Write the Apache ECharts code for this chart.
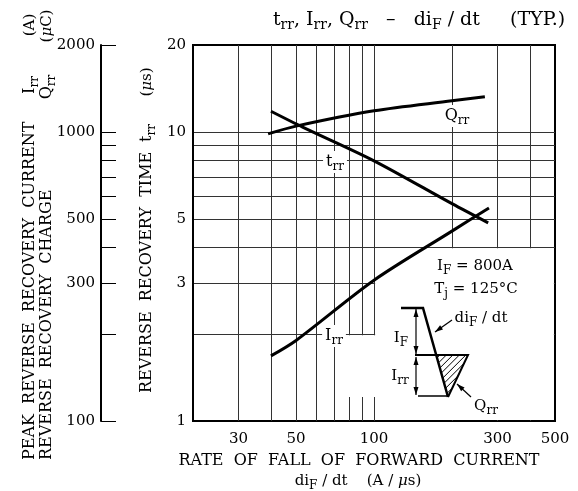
<!DOCTYPE html>
<html>
<head>
<meta charset="utf-8">
<title>trr, Irr, Qrr - diF/dt</title>
<script src="https://cdn.jsdelivr.net/npm/echarts@6/dist/echarts.min.js"></script>
<style>
  html, body { margin: 0; padding: 0; background: #fff; }
  #chart { width: 578px; height: 491px; }
</style>
</head>
<body>
<div id="chart"></div>
<script>
// curves, x = diF/dt in A/us
var trrRate = [40, 53, 100, 200, 276];
var trrTime = [11.8, 10.4, 7.95, 5.65, 4.85];        // us
var irrRate = [40, 50, 100, 200, 278];
var irrCurrent = [168, 190, 307, 454, 546];        // A
var qrrRate = [39, 50, 100, 200, 268];
var qrrCharge = [985, 1048, 1184, 1282, 1325];     // uC

// axis ticks / grid
var xTickLabels = [30, 50, 100, 300, 500];
var xGridLines = [30, 40, 50, 60, 70, 80, 90, 100, 200, 300, 400];
var trrTickLabels = [1, 3, 5, 10, 20];
var trrGridLines = [2, 3, 4, 5, 6, 7, 8, 9, 10];
var leftTickLabels = [100, 300, 500, 1000, 2000];
var leftTicks = [100, 200, 300, 400, 500, 600, 700, 800, 900, 1000, 2000];

var F = 'DejaVu Serif';
var rich = {
  s: { fontFamily: F, fontSize: 12, padding: [10, 0, 0, 0], fill: '#000' },
  t: { fontFamily: F, fontSize: 14, padding: [11, 0, 0, 0], fill: '#000' },
  m: { fontFamily: F, fontSize: 15, fontStyle: 'italic', fill: '#000' }
};

function pairs(xs, ys) {
  return xs.map(function (x, i) { return [x, ys[i]]; });
}

function text(x, y, str, size, extra) {
  var el = {
    type: 'text', x: x, y: y, z: 10, silent: true,
    style: { text: str, fontFamily: F, fontSize: size, fill: '#000',
      align: 'center', verticalAlign: 'middle', rich: rich }
  };
  if (extra) {
    for (var k in extra) el.style[k] = extra[k];
  }
  return el;
}

// rotated text, reads bottom to top
function vtext(x, y, str, size, align) {
  var el = text(x, y, str, size, align ? { align: align } : null);
  el.rotation = Math.PI / 2;
  return el;
}

function seg(points, w) {
  return { type: 'polyline', z: 10, silent: true,
    shape: { points: points }, style: { stroke: '#000', lineWidth: w, fill: null } };
}

// arrow head with tip at (tx,ty), coming from (fx,fy)
function head(tx, ty, fx, fy) {
  var dx = tx - fx, dy = ty - fy, d = Math.sqrt(dx * dx + dy * dy);
  var ux = dx / d, uy = dy / d, len = 8, hw = 2.5;
  var bx = tx - ux * len, by = ty - uy * len;
  return { type: 'polygon', z: 10, silent: true,
    shape: { points: [[tx, ty], [bx - uy * hw, by + ux * hw], [bx + uy * hw, by - ux * hw]] },
    style: { fill: '#000' } };
}

function arrow(fx, fy, tx, ty, both) {
  var out = [seg([[fx, fy], [tx, ty]], 1.2), head(tx, ty, fx, fy)];
  if (both) out.push(head(fx, fy, tx, ty));
  return out;
}

// hatching inside the Qrr triangle of the sketch
function hatch(tri, step) {
  var out = [];
  var cs = tri.map(function (p) { return p[0] + p[1]; });
  var cmin = Math.min.apply(null, cs), cmax = Math.max.apply(null, cs);
  for (var c = cmin + step / 2; c < cmax; c += step) {
    var pts = [];
    for (var i = 0; i < 3; i++) {
      var p = tri[i], q = tri[(i + 1) % 3];
      var fp = p[0] + p[1] - c, fq = q[0] + q[1] - c;
      if ((fp <= 0 && fq > 0) || (fp > 0 && fq <= 0)) {
        var t = fp / (fp - fq);
        pts.push([p[0] + t * (q[0] - p[0]), p[1] + t * (q[1] - p[1])]);
      }
    }
    if (pts.length === 2) out.push(seg(pts, 1));
  }
  return out;
}

var graphics = [
  text(419, 20, 't{t|rr}, I{t|rr}, Q{t|rr}   –   di{t|F} / dt     (TYP.)', 19),
  text(359, 461, 'RATE  OF  FALL  OF  FORWARD  CURRENT', 16),
  text(358, 481, 'di{s|F} / dt    (A / {m|μ}s)', 15),

  vtext(30, 460, 'PEAK  REVERSE  RECOVERY  CURRENT', 16, 'left'),
  vtext(30, 85, 'I{s|rr}', 16),
  vtext(30, 25, '(A)', 15),
  vtext(47, 460, 'REVERSE  RECOVERY  CHARGE', 16, 'left'),
  vtext(47, 87, 'Q{s|rr}', 16),
  vtext(47, 26, '({m|μ}C)', 15),
  vtext(147, 393, 'REVERSE  RECOVERY  TIME', 16, 'left'),
  vtext(147, 133, 't{s|rr}', 16),
  vtext(147, 82, '({m|μ}s)', 15),

  // curve names
  text(335, 162, 't{s|rr}', 16, { backgroundColor: '#fff', padding: [0, 3, 0, 3] }),
  text(334, 336, 'I{s|rr}', 16, { backgroundColor: '#fff', padding: [0, 3, 0, 3] }),
  text(457, 116, 'Q{s|rr}', 16, { backgroundColor: '#fff', padding: [0, 3, 0, 3] }),

  // conditions
  text(475, 266, 'I{s|F} = 800A', 15),
  text(476, 289, 'T{s|j} = 125°C', 15),

  // waveform sketch
  seg([[401, 308], [423, 308], [448, 397]], 2.5),
  seg([[415, 355], [468, 355], [448, 397]], 2),
  seg([[418, 396], [448, 396]], 1.5),
  text(401, 338, 'I{s|F}', 15),
  text(400, 376, 'I{s|rr}', 15),
  text(481, 318, 'di{s|F} / dt', 15),
  text(486, 406, 'Q{s|rr}', 15)
];
graphics = graphics
  .concat(arrow(416, 309, 416, 354, true))
  .concat(arrow(416, 357, 416, 395, true))
  .concat(arrow(452, 320, 435, 332))
  .concat(arrow(471, 397, 457, 384))
  .concat(hatch([[436.6, 355], [468, 355], [448.3, 396.7]], 6.5));

var lineStyle = { color: '#000', width: 3 };
var plain = function (v) { return String(v); };

var chart = echarts.init(document.getElementById('chart'));
chart.setOption({
  animation: false,
  backgroundColor: '#fff',
  textStyle: { fontFamily: F },
  grid: { left: 193, right: 23, top: 45, bottom: 70, show: true,
    borderColor: '#000', borderWidth: 2, backgroundColor: 'transparent' },
  xAxis: {
    type: 'log', logBase: 10, min: 20, max: 500,
    axisLine: { show: false },
    axisTick: { show: false, customValues: xGridLines },
    splitLine: { show: true, lineStyle: { color: '#333', width: 1 } },
    axisLabel: { customValues: xTickLabels, formatter: plain, margin: 11,
      color: '#000', fontSize: 15, fontFamily: F }
  },
  yAxis: [
    {
      type: 'log', logBase: 10, min: 1, max: 20, position: 'left',
      axisLine: { show: true, lineStyle: { color: '#000', width: 2 } },
      axisTick: { show: false, customValues: trrGridLines },
      splitLine: { show: true, lineStyle: { color: '#333', width: 1 } },
      axisLabel: { customValues: trrTickLabels, formatter: plain, margin: 7,
        color: '#000', fontSize: 15, fontFamily: F }
    },
    {
      type: 'log', logBase: 10, min: 100, max: 2000, position: 'left', offset: 92,
      axisLine: { show: true, lineStyle: { color: '#000', width: 2 } },
      axisTick: { show: true, inside: true, length: 15, customValues: leftTicks,
        lineStyle: { color: '#000', width: 1 } },
      splitLine: { show: false },
      axisLabel: { customValues: leftTickLabels, formatter: plain, margin: 6,
        color: '#000', fontSize: 15, fontFamily: F }
    }
  ],
  series: [
    {
      // white areas of the original sheet (inset box, gap in the grid)
      type: 'line', yAxisIndex: 0, data: [], silent: true,
      markArea: {
        silent: true, z: 1,
        itemStyle: { color: '#fff' },
        data: [
          [{ xAxis: 101, yAxis: 3.96 }, { xAxis: 495, yAxis: 1.008 }],
          [{ xAxis: 75, yAxis: 1.98 }, { xAxis: 101, yAxis: 1.21 }]
        ]
      }
    },
    { name: 'trr', type: 'line', yAxisIndex: 0, data: pairs(trrRate, trrTime),
      showSymbol: false, smooth: 0.3, lineStyle: lineStyle, z: 3 },
    { name: 'Irr', type: 'line', yAxisIndex: 1, data: pairs(irrRate, irrCurrent),
      showSymbol: false, smooth: 0.3, lineStyle: lineStyle, z: 3 },
    { name: 'Qrr', type: 'line', yAxisIndex: 1, data: pairs(qrrRate, qrrCharge),
      showSymbol: false, smooth: 0.3, lineStyle: lineStyle, z: 3 }
  ],
  graphic: graphics
});
</script>
</body>
</html>
